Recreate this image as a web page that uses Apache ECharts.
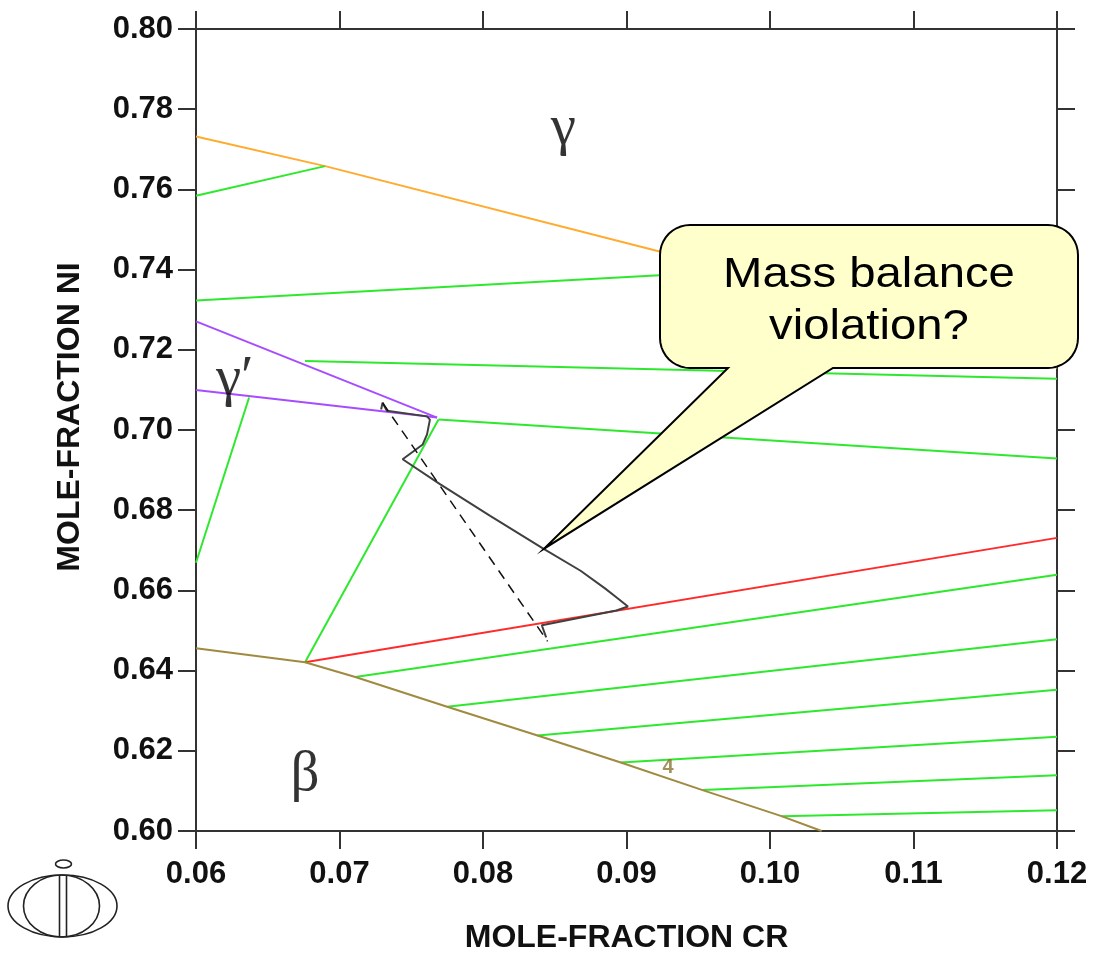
<!DOCTYPE html>
<html><head><meta charset="utf-8">
<script src="https://cdn.jsdelivr.net/npm/echarts@6/dist/echarts.min.js"></script>
<style>html,body{margin:0;padding:0;background:#fff}#c{width:1093px;height:959px}</style>
</head><body><div id="c"></div>
<script>
// ---- axis ticks ----
const xTickValues = [0.06, 0.07, 0.08, 0.09, 0.10, 0.11, 0.12];
const yTickValues = [0.60, 0.62, 0.64, 0.66, 0.68, 0.70, 0.72, 0.74, 0.76, 0.78, 0.80];
const xTitle = 'MOLE-FRACTION CR';
const yTitle = 'MOLE-FRACTION NI';

// ---- phase boundaries ----
const orangeBoundary = [[0.06,0.7732],[0.0690,0.7658],[0.0923,0.7445],[0.12,0.7155]];
const purpleUpper = [[0.06,0.7271],[0.0768,0.7031]];
const purpleLower = [[0.06,0.7100],[0.0768,0.7031]];
const redBoundary = [[0.0676,0.6421],[0.12,0.6731]];
const brownBoundary = [[0.06,0.6456],[0.0676,0.6421],[0.0711,0.6384],[0.0775,0.6310],[0.0838,0.6238],
  [0.0896,0.6171],[0.0953,0.6102],[0.1008,0.6037],[0.1036,0.6000]];

// ---- tie lines (green) ----
const tie1 = [[0.06,0.7584],[0.0690,0.7658]];
const tie2 = [[0.06,0.7323],[0.0971,0.7395]];
const tie3 = [[0.0676,0.7172],[0.12,0.7128]];
const tie4 = [[0.0769,0.7026],[0.12,0.6929]];
const tie5 = [[0.0637,0.7081],[0.06,0.6669]];
const tie6 = [[0.0769,0.7026],[0.0676,0.6421]];
const tie7 = [[0.0711,0.6384],[0.12,0.6639]];
const tie8 = [[0.0775,0.6310],[0.12,0.6478]];
const tie9 = [[0.0838,0.6238],[0.12,0.6352]];
const tie10 = [[0.0896,0.6171],[0.12,0.6235]];
const tie11 = [[0.0953,0.6102],[0.12,0.6139]];
const tie12 = [[0.1008,0.6037],[0.12,0.6052]];

// ---- calculated path (black) and dashed line ----
const blackPath = [[0.0729,0.7051],[0.0730,0.7068],[0.0733,0.7048],[0.0761,0.7034],[0.0763,0.7026],
  [0.0761,0.6989],[0.0758,0.6964],[0.0744,0.6927],[0.0770,0.6865],[0.0805,0.6786],[0.0842,0.6704],
  [0.0868,0.6649],[0.0885,0.6605],[0.0894,0.6580],[0.0901,0.6560],[0.0893,0.6550],[0.0841,0.6513],[0.0844,0.6483]];
const dashedLine = [[0.0730,0.7068],[0.0845,0.6473]];

// ---- text labels ----
const phaseNames = ['γ', 'γ′', 'β'];
const phaseAnchors = [[0.0856,0.7750],[0.0627,0.7125],[0.0676,0.6139]];
const contourLabel = ['4'];
const contourAnchor = [[0.0929,0.6159]];
const calloutLines = ['Mass balance', 'violation?'];
const calloutTip = [0.08425, 0.6704];

const AX = '#333';
const FONT = '"Liberation Sans", Arial, sans-serif';

function lineSeries(data, color, width, type, z) {
  return { type: 'line', data: data, showSymbol: false, symbol: 'none', silent: true,
    lineStyle: { color: color, width: width, type: type || 'solid' }, z: z || 2, animation: false };
}
const GREEN = '#2ee82e';
const series = [
  lineSeries(orangeBoundary, '#ffab2e', 2),
  ...[tie1,tie2,tie3,tie4,tie5,tie6,tie7,tie8,tie9,tie10,tie11,tie12].map(t => lineSeries(t, GREEN, 2)),
  lineSeries(purpleUpper, '#a64dff', 2, 'solid', 3),
  lineSeries(purpleLower, '#a64dff', 2, 'solid', 3),
  lineSeries(redBoundary, '#ff2a2a', 2, 'solid', 3),
  lineSeries(brownBoundary, '#a08a40', 2, 'solid', 3),
  lineSeries(blackPath, '#404040', 2, 'solid', 4),
  lineSeries(dashedLine, '#111', 1.5, [10, 7], 4),
  { type: 'scatter', symbolSize: 1, itemStyle: { color: 'rgba(0,0,0,0)' }, silent: true, z: 5,
    data: phaseAnchors.map((p, i) => ({ value: p, name: phaseNames[i] })),
    label: { show: true, position: 'inside', formatter: p => p.name, color: '#000',
      fontFamily: '"Liberation Serif", "Times New Roman", serif', fontSize: 57 } },
  { type: 'scatter', symbolSize: 1, itemStyle: { color: 'rgba(0,0,0,0)' }, silent: true, z: 5,
    data: contourAnchor.map((p, i) => ({ value: p, name: contourLabel[i] })),
    label: { show: true, position: 'inside', formatter: p => p.name, color: '#8a7430',
      fontFamily: FONT, fontWeight: 'bold', fontSize: 20 } }
];

const axisLine = { show: true, onZero: false, lineStyle: { color: AX, width: 2 } };
const axisTick = { show: true, inside: false, length: 18, lineStyle: { color: AX, width: 2 } };
const labelStyle = { fontSize: 31, fontWeight: 'bold', color: '#111', fontFamily: FONT };
const nameStyle = { fontSize: 32, fontWeight: 'bold', color: '#111', fontFamily: FONT };
const xMin = xTickValues[0], xMax = xTickValues[xTickValues.length - 1];
const yMin = yTickValues[0], yMax = yTickValues[yTickValues.length - 1];
const xInt = 0.01, yInt = 0.02;

const chart = echarts.init(document.getElementById('c'), null, { renderer: 'canvas' });
chart.setOption({
  animation: false,
  backgroundColor: '#fff',
  grid: { left: 196, width: 861, top: 29, height: 807, containLabel: false },
  xAxis: [
    { type: 'value', min: xMin, max: xMax, interval: xInt, position: 'bottom',
      axisLine: axisLine, axisTick: axisTick, splitLine: { show: false },
      axisLabel: Object.assign({ margin: 28, formatter: v => v.toFixed(2) }, labelStyle),
      name: xTitle, nameLocation: 'middle', nameGap: 91, nameTextStyle: nameStyle },
    { type: 'value', min: xMin, max: xMax, interval: xInt, position: 'top',
      axisLine: axisLine, axisTick: axisTick, splitLine: { show: false }, axisLabel: { show: false } }
  ],
  yAxis: [
    { type: 'value', min: yMin, max: yMax, interval: yInt, position: 'left',
      axisLine: axisLine, axisTick: axisTick, splitLine: { show: false },
      axisLabel: Object.assign({ margin: 23, formatter: v => v.toFixed(2) }, labelStyle),
      name: yTitle, nameLocation: 'middle', nameGap: 110, nameRotate: 90,
      nameTextStyle: Object.assign({ padding: [0, 0, 0, 26] }, nameStyle) },
    { type: 'value', min: yMin, max: yMax, interval: yInt, position: 'right',
      axisLine: axisLine, axisTick: axisTick, splitLine: { show: false }, axisLabel: { show: false } }
  ],
  series: series
});

// ---- callout (rounded box with tail pointing at the data point) and logo ----
const tip = chart.convertToPixel({ xAxisIndex: 0, yAxisIndex: 0 }, calloutTip);
const bx0 = 660, bx1 = 1078, by0 = 225, by1 = 368, r = 30, ta = 728, tb = 833;
function arcPts(cx, cy, a0, a1) {
  const pts = [];
  for (let i = 0; i <= 10; i++) {
    const a = a0 + (a1 - a0) * i / 10;
    pts.push([cx + r * Math.cos(a), cy + r * Math.sin(a)]);
  }
  return pts;
}
const P = Math.PI;
const calloutPts = [].concat(
  arcPts(bx0 + r, by0 + r, P, 1.5 * P),
  arcPts(bx1 - r, by0 + r, 1.5 * P, 2 * P),
  arcPts(bx1 - r, by1 - r, 0, 0.5 * P),
  [[tb, by1], [tip[0], tip[1]], [ta, by1]],
  arcPts(bx0 + r, by1 - r, 0.5 * P, P)
);
const logoStroke = { fill: 'none', stroke: '#222', lineWidth: 1.6 };
chart.setOption({
  graphic: [
    { type: 'polygon', z: 100, shape: { points: calloutPts },
      style: { fill: '#ffffcc', stroke: '#000', lineWidth: 2, lineJoin: 'miter' } },
    { type: 'text', z: 101, x: 869, y: 275, scaleX: 1.1,
      style: { text: calloutLines[0], x: 0, y: 0, align: 'center', verticalAlign: 'middle',
        fontSize: 43, fontFamily: FONT, fill: '#000' } },
    { type: 'text', z: 101, x: 869, y: 327, scaleX: 1.1,
      style: { text: calloutLines[1], x: 0, y: 0, align: 'center', verticalAlign: 'middle',
        fontSize: 43, fontFamily: FONT, fill: '#000' } },
    { type: 'ellipse', z: 100, shape: { cx: 62.5, cy: 906, rx: 54.5, ry: 31 }, style: logoStroke },
    { type: 'ellipse', z: 100, shape: { cx: 61.5, cy: 906, rx: 38, ry: 31 }, style: logoStroke },
    { type: 'line', z: 100, shape: { x1: 59.5, y1: 875, x2: 59.5, y2: 937 }, style: logoStroke },
    { type: 'line', z: 100, shape: { x1: 66.5, y1: 875, x2: 66.5, y2: 937 }, style: logoStroke },
    { type: 'ellipse', z: 100, shape: { cx: 63.5, cy: 864, rx: 8, ry: 4 }, style: logoStroke }
  ]
});
</script></body></html>
